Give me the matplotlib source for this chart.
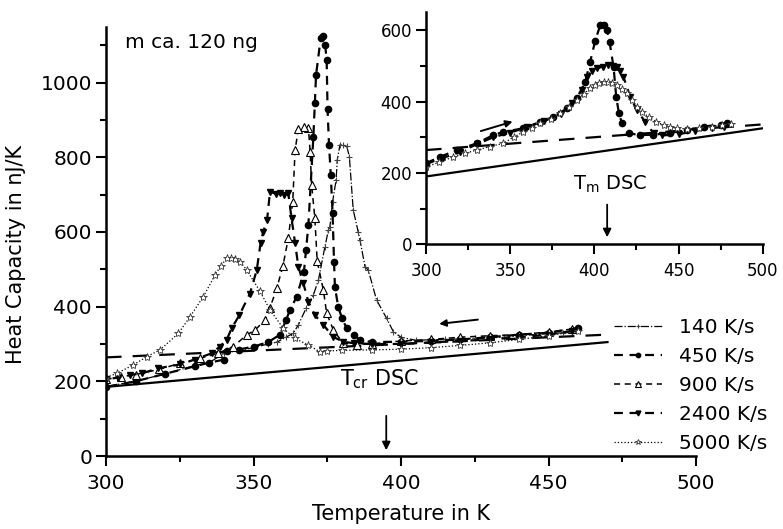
import numpy as np
import matplotlib
matplotlib.use("Agg")
import matplotlib.pyplot as plt
from matplotlib.ticker import MultipleLocator

plt.rcParams['font.family'] = ['DejaVu Sans']
plt.rcParams['mathtext.default'] = 'regular'

# cooling curves (main panel), temperature in K, heat capacity in nJ/K
t140 = [455, 445, 435, 425, 415, 405, 400, 397.4, 395.1, 391.7, 388.9, 387.8, 386.1, 385.5,
        383.8, 382.5, 381.6, 380.5, 379.3, 378.4, 378, 376.8, 375.9, 375.4, 374.2, 372, 370.3,
        367.8, 365.2, 363.5, 361, 358, 355, 350, 345, 340, 335, 330, 320, 310, 300]
cp140 = [330, 325, 318, 315, 312, 310, 318, 333, 369, 418, 498, 507, 578, 600,
         659, 801, 830, 832, 833, 793, 739, 680, 614, 605, 560, 471, 431,
         395, 351, 329, 318, 305, 300, 290, 283, 275, 250, 242, 220, 200, 186]

t450 = [460, 450, 440, 430, 420, 410, 400, 390, 386, 384, 381.6, 380, 378.7, 377.6, 377.3,
        376.8, 376.2, 375.6, 375.1, 374.8, 374.3, 373.6, 372.8, 371.2, 370.8, 370.3, 368.6,
        367.8, 367.1, 364.6, 362.4, 361, 359, 355, 350, 345, 341, 340, 335, 330, 320, 310, 300]
cp450 = [343, 330, 325, 318, 312, 308, 306, 305, 311, 324, 342, 369, 400, 453, 520,
         651, 752, 833, 929, 1060, 1100, 1125, 1120, 1020, 945, 855, 618,
         551, 493, 426, 391, 364, 325, 305, 293, 285, 280, 258, 250, 240, 220, 200, 185]

t900 = [458, 450, 440, 430, 420, 410, 400, 390, 385, 380.4, 377.1, 374.8, 373.7, 371.6,
        370.8, 369.7, 369.2, 368.6, 367, 365.2, 364.1, 363.3, 361.8, 360, 357.9, 355.5,
        353.9, 350.5, 347.7, 343.1, 338, 332, 325, 318, 310, 305, 300]
cp900 = [340, 332, 325, 322, 318, 312, 308, 300, 298, 302, 337, 382, 444, 521,
         636, 726, 815, 878, 880, 875, 819, 681, 583, 510, 449, 395,
         364, 337, 324, 293, 275, 262, 248, 232, 218, 212, 205]

t2400 = [458, 450, 440, 430, 420, 410, 400, 390, 384, 380.4, 377, 373.7, 370.8, 368.6,
         366.9, 365.2, 364.1, 362.9, 361.8, 360.5, 359, 357.5, 355.6, 354.6, 353.3, 352.4,
         351.1, 348.8, 345.2, 342.6, 340.9, 338.6, 335.8, 330, 325, 317.7, 312.1, 308.1, 304, 300]
cp2400 = [335, 325, 318, 312, 308, 304, 300, 300, 302, 306, 319, 351, 377, 413,
          462, 507, 570, 636, 703, 698, 705, 702, 708, 632, 600, 570,
          498, 435, 377, 342, 311, 293, 275, 258, 245, 235, 221, 217, 210, 205]

t5000 = [460, 450, 440, 430, 420, 410, 400, 390, 380, 375, 372.5, 368.6, 364, 360.1, 355.6,
         352.2, 347.7, 345.5, 343.7, 342.3, 340.9, 339, 337, 333, 328.5, 324.5, 318.3, 313.8,
         309.3, 303.6, 300]
cp5000 = [335, 322, 312, 303, 296, 290, 286, 284, 283, 281, 279, 297, 315, 342, 391,
          441, 498, 520, 527, 530, 529, 510, 485, 427, 373, 328, 284, 266,
          244, 221, 210]

# heating curves (inset)
th450 = [300, 308.3, 318.3, 330.2, 340, 346, 357.9, 367.8, 375.7, 383.7, 389.6, 394.6, 397.5,
         400.5, 403.5, 405.5, 407.5, 409, 411.4, 413, 414.6, 416.4, 420.3, 427.3, 435, 445,
         455, 465, 475, 479]
cph450 = [227, 245, 264, 283, 306, 315, 325, 343, 357, 381, 409, 455, 511,
          570, 614, 615, 600, 568, 497, 413, 367, 339, 311, 306, 307, 312,
          320, 330, 335, 339]

th2400 = [300, 310, 320, 330, 340, 350, 360, 370, 380, 387, 392.6, 395.6, 398.5, 401.5, 405,
          408.4, 411, 413.4, 415.5, 417.3, 421.3, 425.3, 430.2, 435.2, 440, 450, 460, 470, 477]
cph2400 = [225, 242, 258, 280, 300, 313, 328, 345, 365, 395, 432, 469, 485, 493, 498,
           502, 500, 497, 485, 469, 413, 376, 343, 311, 305, 308, 318, 325, 330]

th5000 = [300, 308, 316.2, 323, 330.2, 338, 346, 352, 357.9, 363, 367.8, 374, 379.7, 385,
          389.6, 394, 397.5, 400.5, 403, 405.5, 408, 410.5, 413.4, 416.5, 419.4, 422.5, 425.3,
          428.5, 432.2, 436.5, 441.1, 445, 449, 455, 462, 470, 476, 481]
cph5000 = [217, 230, 245, 255, 264, 274, 283, 300, 315, 327, 339, 352, 367, 385,
           404, 422, 437, 446, 452, 455, 455, 452, 446, 435, 423, 405, 385,
           370, 357, 344, 334, 329, 325, 323, 327, 330, 334, 337]

# reference lines (solid and dashed)
base_t_main = [300, 470]
solid_main = [185, 305]
dash_main = [264, 325]
base_t_ins = [300, 500]
solid_ins = [190, 325]
dash_ins = [264, 336]

labels = ['140 K/s', '450 K/s', '900 K/s', '2400 K/s', '5000 K/s']

fig = plt.figure(figsize=(7.83, 5.29), dpi=100)
ax = fig.add_axes([106/783, 1-456/529, (696-106)/783, (456-26.5)/529])

def style_axes(a, fs):
    for s in ['top', 'right']:
        a.spines[s].set_visible(False)
    for s in ['left', 'bottom']:
        a.spines[s].set_linewidth(1.8)
    a.tick_params(which='major', direction='out', length=7, width=1.5, labelsize=fs)
    a.tick_params(which='minor', direction='out', length=4.5, width=1.5)
    a.tick_params(axis='x', pad=6)
    a.tick_params(axis='y', pad=3)

ax.plot(base_t_main, solid_main, '-', color='black', lw=1.6)
ax.plot(base_t_main, dash_main, color='black', lw=1.6, dashes=(7, 5))

ax.plot(t140, cp140, color='black', lw=0.9, ls='-.', marker='+', ms=5, mew=0.8,
        mec='#444444', label=labels[0])
ax.plot(t450, cp450, color='black', lw=1.6, dashes=(4, 3), marker='o', ms=4.5,
        mfc='black', mec='black', label=labels[1])
ax.plot(t900, cp900, color='black', lw=1.1, dashes=(4, 3), marker='^', ms=5.5,
        mfc='white', mec='black', mew=0.8, label=labels[2])
ax.plot(t2400, cp2400, color='black', lw=1.6, dashes=(4, 3), marker='v', ms=5,
        mfc='black', mec='black', label=labels[3])
ax.plot(t5000, cp5000, color='black', lw=0.9, ls=':', marker='*', ms=6,
        mfc='white', mec='#333333', mew=0.6, label=labels[4])

ax.set_xlim(300, 500)
ax.set_ylim(0, 1150)
ax.xaxis.set_major_locator(MultipleLocator(50))
ax.xaxis.set_minor_locator(MultipleLocator(25))
ax.yaxis.set_major_locator(MultipleLocator(200))
ax.yaxis.set_minor_locator(MultipleLocator(100))
style_axes(ax, 14.5)
ax.set_xlabel('Temperature in K', fontsize=15, labelpad=8)
ax.set_ylabel('Heat Capacity in nJ/K', fontsize=15)
ax.yaxis.set_label_coords(-0.135, 0.47)

ax.text(306.4, 1106, 'm ca. 120 ng', fontsize=14.5, va='center', ha='left')
ax.text(379.3, 205, 'T$_{cr}$ DSC', fontsize=15, va='center', ha='left')
ax.annotate('', xy=(395, 8), xytext=(395, 115),
            arrowprops=dict(arrowstyle='-|>', color='black', lw=1.3, mutation_scale=12))
ax.annotate('', xy=(412, 353), xytext=(427, 366),
            arrowprops=dict(arrowstyle='-|>', color='black', lw=1.4, mutation_scale=10))

leg = ax.legend(loc='upper left', bbox_to_anchor=(604/783, 1-308/529),
                bbox_transform=fig.transFigure, frameon=False, fontsize=14.5,
                handlelength=2.4, handletextpad=0.8, labelspacing=0.5,
                markerscale=0.7, borderpad=0)

# inset
ins = fig.add_axes([426/783, 1-244.3/529, (762.7-426)/783, (244.3-12.3)/529])
ins.plot(base_t_ins, solid_ins, '-', color='black', lw=1.6)
ins.plot(base_t_ins, dash_ins, color='black', lw=1.6, dashes=(7, 5))
ins.plot(th450, cph450, color='black', lw=1.6, dashes=(4, 3), marker='o', ms=4.5,
         mfc='black', mec='black')
ins.plot(th2400, cph2400, color='black', lw=1.6, dashes=(4, 3), marker='v', ms=5,
         mfc='black', mec='black')
ins.plot(th5000, cph5000, color='black', lw=0.9, ls=':', marker='*', ms=6,
         mfc='white', mec='#333333', mew=0.6)
ins.set_xlim(300, 500)
ins.set_ylim(0, 650)
ins.xaxis.set_major_locator(MultipleLocator(50))
ins.xaxis.set_minor_locator(MultipleLocator(25))
ins.yaxis.set_major_locator(MultipleLocator(200))
ins.yaxis.set_minor_locator(MultipleLocator(100))
style_axes(ins, 12)
ins.patch.set_alpha(0)

ins.text(387.4, 167, 'T$_{m}$ DSC', fontsize=14, va='center', ha='left')
ins.annotate('', xy=(407.6, 12), xytext=(407.6, 119),
             arrowprops=dict(arrowstyle='-|>', color='black', lw=1.3, mutation_scale=12))
ins.annotate('', xy=(353, 346), xytext=(331, 315),
             arrowprops=dict(arrowstyle='-|>', color='black', lw=1.4, mutation_scale=10))

fig.savefig('out.png', dpi=100)
